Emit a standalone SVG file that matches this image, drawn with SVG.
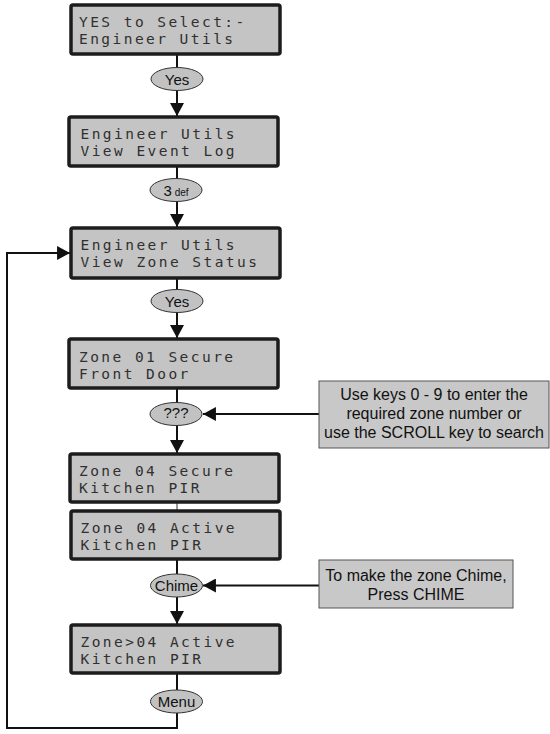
<svg xmlns="http://www.w3.org/2000/svg" width="550" height="734" viewBox="0 0 550 734">
<style>
.lcd{fill:#c4c4c4;stroke:#1c1c1c;stroke-width:3.5}
.lt{font-family:"DejaVu Sans Mono","Liberation Mono",monospace;font-size:14.5px;letter-spacing:2.45px;fill:#303030}
.key{fill:#c2c2c2;stroke:#333;stroke-width:1}
.kt{font-family:"Liberation Sans",Arial,sans-serif;font-size:15px;fill:#111;text-anchor:middle}
.note{fill:#c8c8c8;stroke:#555;stroke-width:1}
.nt{font-family:"Liberation Sans",Arial,sans-serif;font-size:16px;fill:#111;text-anchor:middle}
.ln{fill:none;stroke:#111;stroke-width:2}
</style>
<defs>
<marker id="ah" markerUnits="userSpaceOnUse" markerWidth="13" markerHeight="14" viewBox="0 0 12 13" refX="12" refY="6.5" orient="auto">
<path d="M0,0 L12,6.5 L0,13 z" fill="#111"/>
</marker>
</defs>
<g id="connectors">
<path class="ln" d="M177,54 V68"/>
<path class="ln" d="M177,90 V116" marker-end="url(#ah)"/>
<path class="ln" d="M177,166 V179"/>
<path class="ln" d="M177,201 V227" marker-end="url(#ah)"/>
<path class="ln" d="M177,278 V290"/>
<path class="ln" d="M177,312 V338" marker-end="url(#ah)"/>
<path class="ln" d="M177,388 V403"/>
<path class="ln" d="M177,425 V453" marker-end="url(#ah)"/>
<path d="M177,502 V511" stroke="#777" stroke-width="1.5"/>
<path class="ln" d="M177,559 V574"/>
<path class="ln" d="M177,597 V624" marker-end="url(#ah)"/>
<path class="ln" d="M177,673 V690"/>
<path class="ln" d="M177,713 V728 H7 V253 H70" marker-end="url(#ah)"/>
<path class="ln" d="M319,414 H203" marker-end="url(#ah)"/>
<path class="ln" d="M319,585.5 H203" marker-end="url(#ah)"/>
</g>
<g id="lcd1"><rect class="lcd" x="71" y="5" width="209" height="49" rx="2"/>
<text class="lt" x="79" y="27">YES to Select:-</text><text class="lt" x="79" y="44">Engineer Utils</text></g>
<g id="key1"><ellipse class="key" cx="177" cy="79" rx="26" ry="11.5"/><text class="kt" x="177" y="84.5">Yes</text></g>
<g id="lcd2"><rect class="lcd" x="69" y="117" width="209" height="49" rx="2"/>
<text class="lt" x="80.5" y="139">Engineer Utils</text><text class="lt" x="80.5" y="156">View Event Log</text></g>
<g id="key2"><ellipse class="key" cx="176" cy="190" rx="26" ry="11.5"/><text class="kt" x="176" y="195.5"><tspan>3</tspan><tspan font-size="10px" dx="3">def</tspan></text></g>
<g id="lcd3"><rect class="lcd" x="71" y="228" width="209" height="50" rx="2"/>
<text class="lt" x="80.5" y="250">Engineer Utils</text><text class="lt" x="80.5" y="267">View Zone Status</text></g>
<g id="key3"><ellipse class="key" cx="177" cy="301" rx="26" ry="11.5"/><text class="kt" x="177" y="306.5">Yes</text></g>
<g id="lcd4"><rect class="lcd" x="69" y="339" width="209" height="49" rx="2"/>
<text class="lt" x="79" y="362">Zone 01 Secure</text><text class="lt" x="79" y="379">Front Door</text></g>
<g id="key4"><ellipse class="key" cx="176" cy="414" rx="26" ry="11.5"/><text class="kt" x="176" y="418" font-size="10px">???</text></g>
<g id="lcd5"><rect class="lcd" x="70" y="454" width="209" height="48" rx="2"/>
<text class="lt" x="79" y="476">Zone 04 Secure</text><text class="lt" x="79" y="493">Kitchen PIR</text></g>
<g id="lcd6"><rect class="lcd" x="71" y="511" width="209" height="48" rx="2"/>
<text class="lt" x="80.5" y="533">Zone 04 Active</text><text class="lt" x="80.5" y="550">Kitchen PIR</text></g>
<g id="key5"><ellipse class="key" cx="176.5" cy="585.5" rx="26" ry="11.5"/><text class="kt" x="176.5" y="591" font-size="16px">Chime</text></g>
<g id="lcd7"><rect class="lcd" x="71" y="625" width="209" height="48" rx="2"/>
<text class="lt" x="80.5" y="647">Zone&gt;04 Active</text><text class="lt" x="80.5" y="664">Kitchen PIR</text></g>
<g id="key6"><ellipse class="key" cx="176.5" cy="701.5" rx="26" ry="11.5"/><text class="kt" x="176.5" y="707" font-size="16px">Menu</text></g>
<g id="note1"><rect class="note" x="319" y="381" width="230" height="67"/>
<text class="nt" x="434" y="399.5">Use keys 0 - 9 to enter the</text>
<text class="nt" x="434" y="418.5">required zone number or</text>
<text class="nt" x="434" y="437.5">use the SCROLL key to search</text></g>
<g id="note2"><rect class="note" x="319" y="560" width="194" height="48"/>
<text class="nt" x="416" y="581">To make the zone Chime,</text>
<text class="nt" x="416" y="600">Press CHIME</text></g>
</svg>
